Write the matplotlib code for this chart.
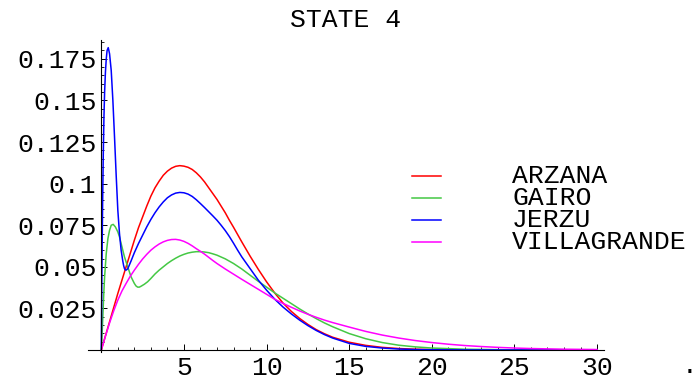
import matplotlib
matplotlib.use('Agg')
import matplotlib.pyplot as plt
from matplotlib.lines import Line2D
import numpy as np

plt.rcParams['font.family'] = ['Liberation Mono', 'DejaVu Sans Mono']

# Densities
arzana_x = [0, 0.5, 1, 1.5, 2, 2.25, 2.5, 2.75, 3, 3.25, 3.5, 3.75, 4, 4.25, 4.5, 4.75, 5,
            5.25, 5.5, 5.75, 6, 6.25, 6.5, 6.75, 7, 7.25, 7.5, 7.75, 8, 8.5, 9, 9.5, 10, 10.5,
            11, 11.5, 12, 12.5, 13, 13.5, 14, 15, 16, 17, 18, 19, 20, 22, 25, 30]
arzana_y = [0, 0.017, 0.034, 0.050, 0.066, 0.0735, 0.080, 0.0865, 0.0925, 0.0975, 0.1015,
            0.105, 0.1075, 0.1093, 0.1104, 0.1108, 0.1105, 0.1098, 0.1085, 0.1065, 0.104, 0.101,
            0.0975, 0.094, 0.0905, 0.0865, 0.0825, 0.078, 0.0738, 0.065, 0.0565, 0.0485, 0.041,
            0.0342, 0.0282, 0.0232, 0.019, 0.0154, 0.0123, 0.0098, 0.0077, 0.0047, 0.0028,
            0.0016, 0.0009, 0.0005, 0.0003, 0.0001, 0.00005, 0.0]

gairo_x = [0, 0.05, 0.1, 0.15, 0.2, 0.3, 0.4, 0.5, 0.6, 0.72, 0.85, 1.0, 1.1, 1.2, 1.3, 1.4,
           1.5, 1.6, 1.7, 1.8, 1.9, 2.0, 2.1, 2.2, 2.3, 2.4, 2.6, 2.8, 3.0, 3.25, 3.5, 3.75, 4.0,
           4.25, 4.5, 4.75, 5.0, 5.25, 5.5, 5.75, 6.0, 6.25, 6.5, 6.75, 7.0, 7.5, 8.0, 8.5, 9.0,
           9.5, 10, 10.5, 11, 11.5, 12, 12.5, 13, 13.5, 14, 15, 16, 17, 18, 19, 20, 22, 25, 30]
gairo_y = [0, 0.010, 0.022, 0.034, 0.044, 0.058, 0.067, 0.072, 0.075, 0.0755, 0.074, 0.071,
           0.068, 0.064, 0.060, 0.056, 0.053, 0.050, 0.047, 0.044, 0.042, 0.040, 0.0385, 0.0378,
           0.0378, 0.0383, 0.0395, 0.041, 0.043, 0.0457, 0.048, 0.050, 0.052, 0.0537, 0.0552,
           0.0565, 0.0575, 0.0583, 0.0588, 0.0591, 0.0591, 0.0589, 0.0585, 0.0578, 0.057,
           0.0548, 0.052, 0.0487, 0.045, 0.0413, 0.0378, 0.0343, 0.0311, 0.0279, 0.0247, 0.0217,
           0.0189, 0.0163, 0.014, 0.0099, 0.0068, 0.0045, 0.0029, 0.0019, 0.0012, 0.0005,
           0.0001, 0.0]

jerzu_x = [0, 0.04, 0.08, 0.12, 0.16, 0.2, 0.25, 0.3, 0.35, 0.42, 0.5, 0.6, 0.7, 0.8, 0.9,
           1.0, 1.1, 1.2, 1.3, 1.35, 1.4, 1.45, 1.5, 1.6, 1.8, 2.0, 2.25, 2.5, 2.75, 3.0, 3.25,
           3.5, 3.75, 4.0, 4.25, 4.5, 4.75, 5.0, 5.25, 5.5, 5.75, 6.0, 6.25, 6.5, 6.75, 7.0,
           7.25, 7.5, 7.75, 8.0, 8.25, 8.5, 9.0, 9.5, 10, 10.5, 11, 11.5, 12, 12.5, 13, 13.5, 14,
           15, 16, 17, 18, 19, 20, 22, 30]
jerzu_y = [0, 0.050, 0.089, 0.118, 0.140, 0.155, 0.167, 0.175, 0.180, 0.1817, 0.178, 0.168,
           0.150, 0.128, 0.105, 0.084, 0.070, 0.060, 0.0535, 0.0508, 0.049, 0.0482, 0.048,
           0.0488, 0.0535, 0.0585, 0.064, 0.069, 0.074, 0.0785, 0.0825, 0.086, 0.089, 0.0915,
           0.0932, 0.0943, 0.0947, 0.0945, 0.0937, 0.0923, 0.0903, 0.0880, 0.0856, 0.0831,
           0.0806, 0.078, 0.075, 0.0718, 0.0682, 0.0642, 0.060, 0.056, 0.049, 0.042, 0.036,
           0.0305, 0.0258, 0.0217, 0.018, 0.0147, 0.0118, 0.0093, 0.0072, 0.0040, 0.0022, 0.0012,
           0.0006, 0.0003, 0.00015, 0.00005, 0.0]

villa_x = [0, 0.25, 0.5, 0.75, 1.0, 1.25, 1.5, 1.75, 2.0, 2.25, 2.5, 2.75, 3.0, 3.25, 3.5,
           3.75, 4.0, 4.25, 4.5, 4.75, 5.0, 5.25, 5.5, 5.75, 6.0, 6.25, 6.5, 6.75, 7.0, 7.5, 8.0,
           8.5, 9.0, 9.5, 10, 10.5, 11, 11.5, 12, 12.5, 13, 13.5, 14, 15, 16, 17, 18, 19, 20,
           21, 22, 23, 24, 25, 26, 27, 28, 29, 30]
villa_y = [0, 0.0083, 0.0163, 0.0235, 0.030, 0.0355, 0.040, 0.0443, 0.048, 0.0515, 0.0547,
           0.0575, 0.060, 0.062, 0.0637, 0.065, 0.0659, 0.0664, 0.0665, 0.0661, 0.0653, 0.0641,
           0.0626, 0.0609, 0.0593, 0.0576, 0.0557, 0.0538, 0.052, 0.0487, 0.0456, 0.0425,
           0.0395, 0.0365, 0.0335, 0.0305, 0.028, 0.0257, 0.0235, 0.0215, 0.0197, 0.018, 0.0165,
           0.0138, 0.0112, 0.009, 0.0072, 0.0057, 0.0045, 0.0035, 0.0027, 0.0021, 0.0016, 0.0012,
           0.0009, 0.0007, 0.0005, 0.0004, 0.0003]

names = ['ARZANA', 'GAIRO', 'JERZU', 'VILLAGRANDE']
colors = ['#ff0000', '#44c844', '#0000ff', '#ff00ff']
xticks = [5, 10, 15, 20, 25, 30]
yticks = [0.025, 0.05, 0.075, 0.1, 0.125, 0.15, 0.175]
ylabels = ['0.025', '0.05', '0.075', '0.1', '0.125', '0.15', '0.175']

W, H = 695, 376
fig = plt.figure(figsize=(W / 100, H / 100), dpi=100)
ax = fig.add_axes([88 / W, 1 - 351.7 / H, (604 - 88) / W, (351.7 - 40) / H])

series = [(arzana_x, arzana_y), (gairo_x, gairo_y), (jerzu_x, jerzu_y), (villa_x, villa_y)]
for (xs, ys), c in zip(series, colors):
    ax.plot(xs, ys, color=c, lw=1.1)

ax.set_xlim(-0.805, 30.42)
ax.set_ylim(-0.001, 0.1863)

# Mathematica style axes through the origin
ax.spines['left'].set_position(('data', 0))
ax.spines['bottom'].set_position(('data', 0))
ax.spines['top'].set_visible(False)
ax.spines['right'].set_visible(False)
for s in ['left', 'bottom']:
    ax.spines[s].set_linewidth(0.8)

ax.set_xticks(xticks)
ax.set_xticklabels([str(t) for t in xticks])
ax.set_xticks(np.arange(1, 31), minor=True)
ax.set_yticks(yticks)
ax.set_yticklabels(ylabels)
ax.set_yticks(np.arange(0.005, 0.186, 0.005), minor=True)
ax.tick_params(which='major', direction='in', length=4, width=0.7, labelsize=19)
ax.tick_params(which='minor', direction='in', length=2.2, width=0.6)
ax.tick_params(axis='x', which='major', pad=4)
ax.tick_params(axis='y', which='major', pad=3.5)

fig.text(346 / W, 1 - 20 / H, 'STATE 4', ha='center', va='center', fontsize=19)
# clipped axis label remnant at the bottom right
fig.text(690 / W, 1 - 373 / H, '.', ha='center', va='baseline', fontsize=19)

# legend drawn by hand
for i, (name, c) in enumerate(zip(names, colors)):
    yy = 1 - (176 + i * 21.9) / H
    fig.add_artist(Line2D([412 / W, 441 / W], [yy, yy], transform=fig.transFigure, color=c, lw=1.1))
    fig.text(512 / W, yy, name, ha='left', va='center', fontsize=19)

fig.savefig('out.png', dpi=100)
